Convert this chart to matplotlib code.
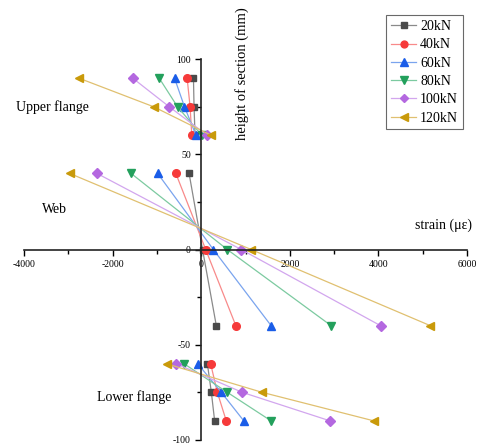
import matplotlib.pyplot as plt
from matplotlib.ticker import MultipleLocator

plt.rcParams['font.family'] = ['Liberation Serif', 'DejaVu Serif']
plt.rcParams['axes.unicode_minus'] = False

loads = ['20kN', '40kN', '60kN', '80kN', '100kN', '120kN']

# section heights (mm) for each part
upper_h = [90, 75, 60]
web_h = [40, 0, -40]
lower_h = [-60, -75, -90]

# strain readings (microstrain), one row per load, in the order of heights above
upper = [
    [-175, -162, -139],
    [-318, -251, -213],
    [-602, -378, -117],
    [-948, -535, 11],
    [-1546, -723, 139],
    [-2760, -1075, 225],
]
web = [
    [-274, 30, 341],
    [-573, 101, 782],
    [-984, 274, 1578],
    [-1584, 589, 2933],
    [-2355, 903, 4049],
    [-2971, 1128, 5173],
]
lower = [
    [139, 229, 303],
    [213, 364, 566],
    [-79, 454, 962],
    [-386, 589, 1578],
    [-566, 926, 2910],
    [-783, 1375, 3899],
]

marker_colors = ['#4a4a4a', '#f63a3a', '#1a5de8', '#23a05c', '#b468e0', '#c99a0a']
line_colors = ['#8a8a8a', '#f88a8a', '#7aa4ee', '#7ccaa0', '#d2a6ee', '#e0c070']
markers = ['s', 'o', '^', 'v', 'D', '<']
msizes = [5, 5.5, 6, 6, 5, 6]

fig = plt.figure(figsize=(4.8, 4.48), dpi=100)
ax = fig.add_axes([0.05, 0.018, 0.923, 0.85])

for i, name in enumerate(loads):
    for xs, hs in [(upper[i], upper_h), (web[i], web_h), (lower[i], lower_h)]:
        ax.plot(xs, hs, color=line_colors[i], lw=0.9, marker=markers[i],
                ms=msizes[i], mfc=marker_colors[i], mec=marker_colors[i],
                label=name if hs is upper_h else None)

ax.set_xlim(-4000, 6000)
ax.set_ylim(-100, 100)
ax.spines['left'].set_position(('data', 0))
ax.spines['bottom'].set_position(('data', 0))
ax.spines['top'].set_visible(False)
ax.spines['right'].set_visible(False)
for s in ['left', 'bottom']:
    ax.spines[s].set_linewidth(1.2)
    ax.spines[s].set_color('#222222')

ax.xaxis.set_major_locator(MultipleLocator(2000))
ax.xaxis.set_minor_locator(MultipleLocator(1000))
ax.yaxis.set_major_locator(MultipleLocator(50))
ax.yaxis.set_minor_locator(MultipleLocator(25))
ax.tick_params(which='major', length=4, width=1, labelsize=7)
ax.tick_params(which='minor', length=3, width=1)

ax.text(930, 92.5, 'height of section (mm)', rotation=90, ha='center', va='center',
        fontsize=10.5, clip_on=False)
ax.text(6120, 13, 'strain (\u03bc\u03b5)', ha='right', va='center', fontsize=10)
ax.text(-4170, 75, 'Upper flange', ha='left', va='center', fontsize=10)
ax.text(-3315, 21, 'Web', ha='center', va='center', fontsize=10)
ax.text(-1517, -77.5, 'Lower flange', ha='center', va='center', fontsize=10)

leg = ax.legend(loc='upper right', bbox_to_anchor=(0.991, 1.115), fontsize=10,
                frameon=True, fancybox=False, edgecolor='#444444',
                handlelength=1.8, handletextpad=0.3, labelspacing=0.38,
                borderpad=0.35, borderaxespad=0, markerscale=0.9)
leg.get_frame().set_linewidth(0.8)

fig.savefig('out.png', dpi=100)
